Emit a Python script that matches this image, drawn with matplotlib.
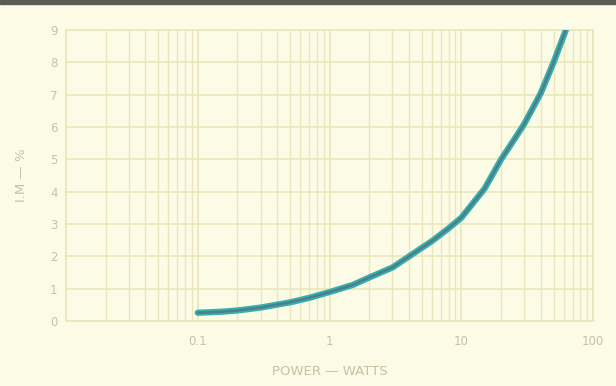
import matplotlib
matplotlib.use('Agg')
import matplotlib.pyplot as plt
from matplotlib.patches import Rectangle

# values
power = [0.1, 0.15, 0.2, 0.3, 0.5, 0.7, 1, 1.5, 2, 3, 4, 6, 8, 10, 15, 20, 25, 30, 40, 50, 62]
im_pct = [0.26, 0.29, 0.33, 0.42, 0.58, 0.72, 0.9, 1.12, 1.35, 1.66, 2.0, 2.48, 2.87, 3.2, 4.1, 5.0, 5.6, 6.1, 7.05, 8.0, 9.0]
x_ticks = [0.1, 1, 10, 100]
x_tick_labels = ['0.1', '1', '10', '100']
y_ticks = list(range(0, 10))

bg = '#fbfbe6'
grid_col = '#ece6bc'
text_col = '#c9c2a2'

fig = plt.figure(figsize=(6.16, 3.86), dpi=100, facecolor=bg)
ax = fig.add_axes([0.107, 0.168, 0.856, 0.754])
ax.set_facecolor(bg)

ax.set_xscale('log')
ax.set_xlim(0.01, 100)
ax.set_ylim(0, 9)

ax.set_xticks(x_ticks)
ax.set_xticklabels(x_tick_labels)
ax.set_yticks(y_ticks)
ax.tick_params(axis='both', which='both', length=0, colors=text_col, labelsize=8.5)
ax.tick_params(axis='x', pad=10)
ax.tick_params(axis='y', pad=6)

ax.grid(True, which='major', color=grid_col, lw=1.2)
ax.grid(True, which='minor', axis='x', color=grid_col, lw=1.0)
for s in ax.spines.values():
    s.set_color(grid_col)
    s.set_linewidth(1.2)

ax.plot(power, im_pct, color='#35b0ae', lw=4.5, solid_capstyle='round', zorder=3)
ax.plot(power, im_pct, color='#4c7e8c', lw=1.8, solid_capstyle='round', zorder=4)

ax.set_xlabel('POWER \u2014 WATTS', color=text_col, fontsize=9.5, labelpad=12)
ax.set_ylabel('I.M \u2014 %', color=text_col, fontsize=9.5, labelpad=16)

# dark scan edge along the top
fig.patches.append(Rectangle((0, 0.99), 1, 0.01, transform=fig.transFigure,
                             color='#5a5e52', zorder=10))

fig.savefig('out.png', dpi=100, facecolor=bg)
